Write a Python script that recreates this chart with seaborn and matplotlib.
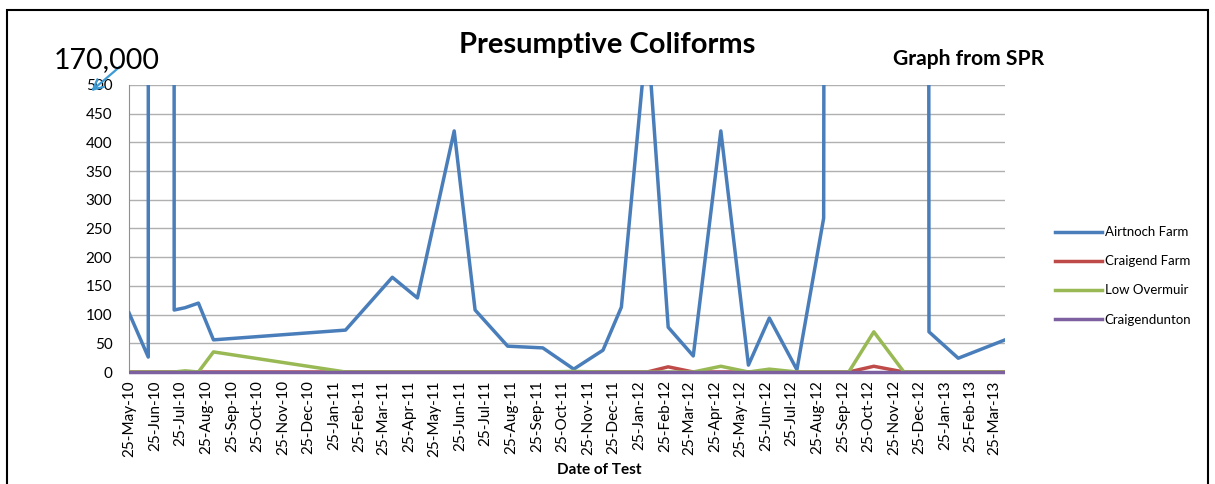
import pandas as pd
import matplotlib.pyplot as plt
import seaborn as sns
from matplotlib.patches import Rectangle
from matplotlib.transforms import Bbox, TransformedBbox

# test dates (shared by all four sites)
dates = ["2010-05-25", "2010-06-17", "2010-07-02", "2010-07-18", "2010-07-31",
         "2010-08-16", "2010-09-03", "2011-02-08", "2011-04-05", "2011-05-05",
         "2011-06-18", "2011-07-13", "2011-08-21", "2011-10-02", "2011-11-08",
         "2011-12-13", "2012-01-04", "2012-02-04", "2012-02-29", "2012-03-30",
         "2012-05-02", "2012-06-04", "2012-06-29", "2012-08-01", "2012-09-02",
         "2012-10-02", "2012-11-01", "2012-12-07", "2013-01-06", "2013-02-10",
         "2013-04-07"]

airtnoch = [103, 26, 170000, 108, 112, 120, 56, 73, 165, 129,
            420, 108, 45, 42, 5, 38, 113, 595, 78, 28,
            420, 12, 94, 4, 268, 30000, 45000, 60000, 70, 24,
            56]
craigend = [0, 0, 0, 0, 0, 0, 0, 0, 0, 0,
            0, 0, 0, 0, 0, 0, 0, 0, 9, 0,
            0, 0, 0, 0, 0, 0, 10, 0, 0, 0,
            0]
low_overmuir = [0, 0, 0, 0, 2, 0, 35, 0, 0, 0,
                0, 0, 0, 0, 1, 0, 0, 0, 0, 0,
                10, 0, 5, 0, 0, 0, 70, 0, 0, 0,
                0]
craigendunton = [0] * len(dates)

sites = ["Airtnoch Farm", "Craigend Farm", "Low Overmuir", "Craigendunton"]
colours = ["#4A7EBB", "#BE4B48", "#98B954", "#7D60A0"]
series = [airtnoch, craigend, low_overmuir, craigendunton]
widths = [2.5, 2.5, 2.5, 2.8]  # last one a bit wider so it hides the zeros below

x = pd.to_datetime(dates)

plt.rcParams['font.family'] = ['Lato', 'DejaVu Sans']

fig = plt.figure(figsize=(12.15, 4.84), dpi=100)
ax = fig.add_axes([0.1062, 0.2314, 0.721, 0.593])

# one call per site so the draw order matches (purple ends up on top)
for i, (site, vals, c, w) in enumerate(zip(sites, series, colours, widths)):
    sns.lineplot(x=x, y=vals, color=c, linewidth=w, label=site, ax=ax,
                 estimator=None, zorder=3 + i)

# let the zero lines show at full width (clip only a bit below the axis)
clip = TransformedBbox(Bbox([[0, -0.03], [1, 1]]), ax.transAxes)
for line in ax.lines:
    line.set_clip_path(None)
    line.set_clip_box(clip)

ax.set_ylim(0, 500)
ax.set_yticks(range(0, 501, 50))
ax.set_xlim(x[0], x[-1])
ticks = pd.date_range("2010-05-25", "2013-03-25", freq=pd.DateOffset(months=1))
ax.set_xticks(ticks)
ax.set_xticklabels([t.strftime("%d-%b-%y") for t in ticks], rotation=90,
                   fontsize=11)
ax.tick_params(axis='y', labelsize=11, length=0, pad=12)
ax.tick_params(axis='x', length=0, pad=6)
ax.grid(axis='y', color='#B0B0B0', linewidth=1)
ax.set_axisbelow(True)
for side in ['top', 'right', 'bottom']:
    ax.spines[side].set_visible(False)
ax.spines['left'].set_color('#909090')

ax.set_ylabel("")
ax.set_xlabel("")
fig.text(0.493, 0.029, "Date of Test", fontsize=11, fontweight='bold',
         ha='center', va='center')

h, l = ax.get_legend_handles_labels()
for hd in h:
    hd.set_linewidth(2.5)
ax.legend(h, l, loc='center left', bbox_to_anchor=(1.043, 0.335), frameon=False,
          fontsize=9.5, handlelength=3.6, handletextpad=0.2, labelspacing=1.3)

fig.text(0.5, 0.907, "Presumptive Coliforms", fontsize=21, fontweight='bold',
         ha='center', va='center')
fig.text(0.797, 0.878, "Graph from SPR", fontsize=15.2, fontweight='bold',
         ha='center', va='center')
fig.text(0.0876, 0.876, "170,000", fontsize=20.5, ha='center', va='center')
ax.annotate("", xy=(0.0733, 0.808), xytext=(0.1004, 0.866),
            xycoords='figure fraction', textcoords='figure fraction',
            arrowprops=dict(arrowstyle='->', color='#3C9AD5', lw=1.6,
                            mutation_scale=18))

fig.patches.append(Rectangle((0.0058, -0.05), 0.9884, 1.029,
                             transform=fig.transFigure, fill=False,
                             edgecolor='black', linewidth=1.5))

fig.savefig("out.png", dpi=100)
